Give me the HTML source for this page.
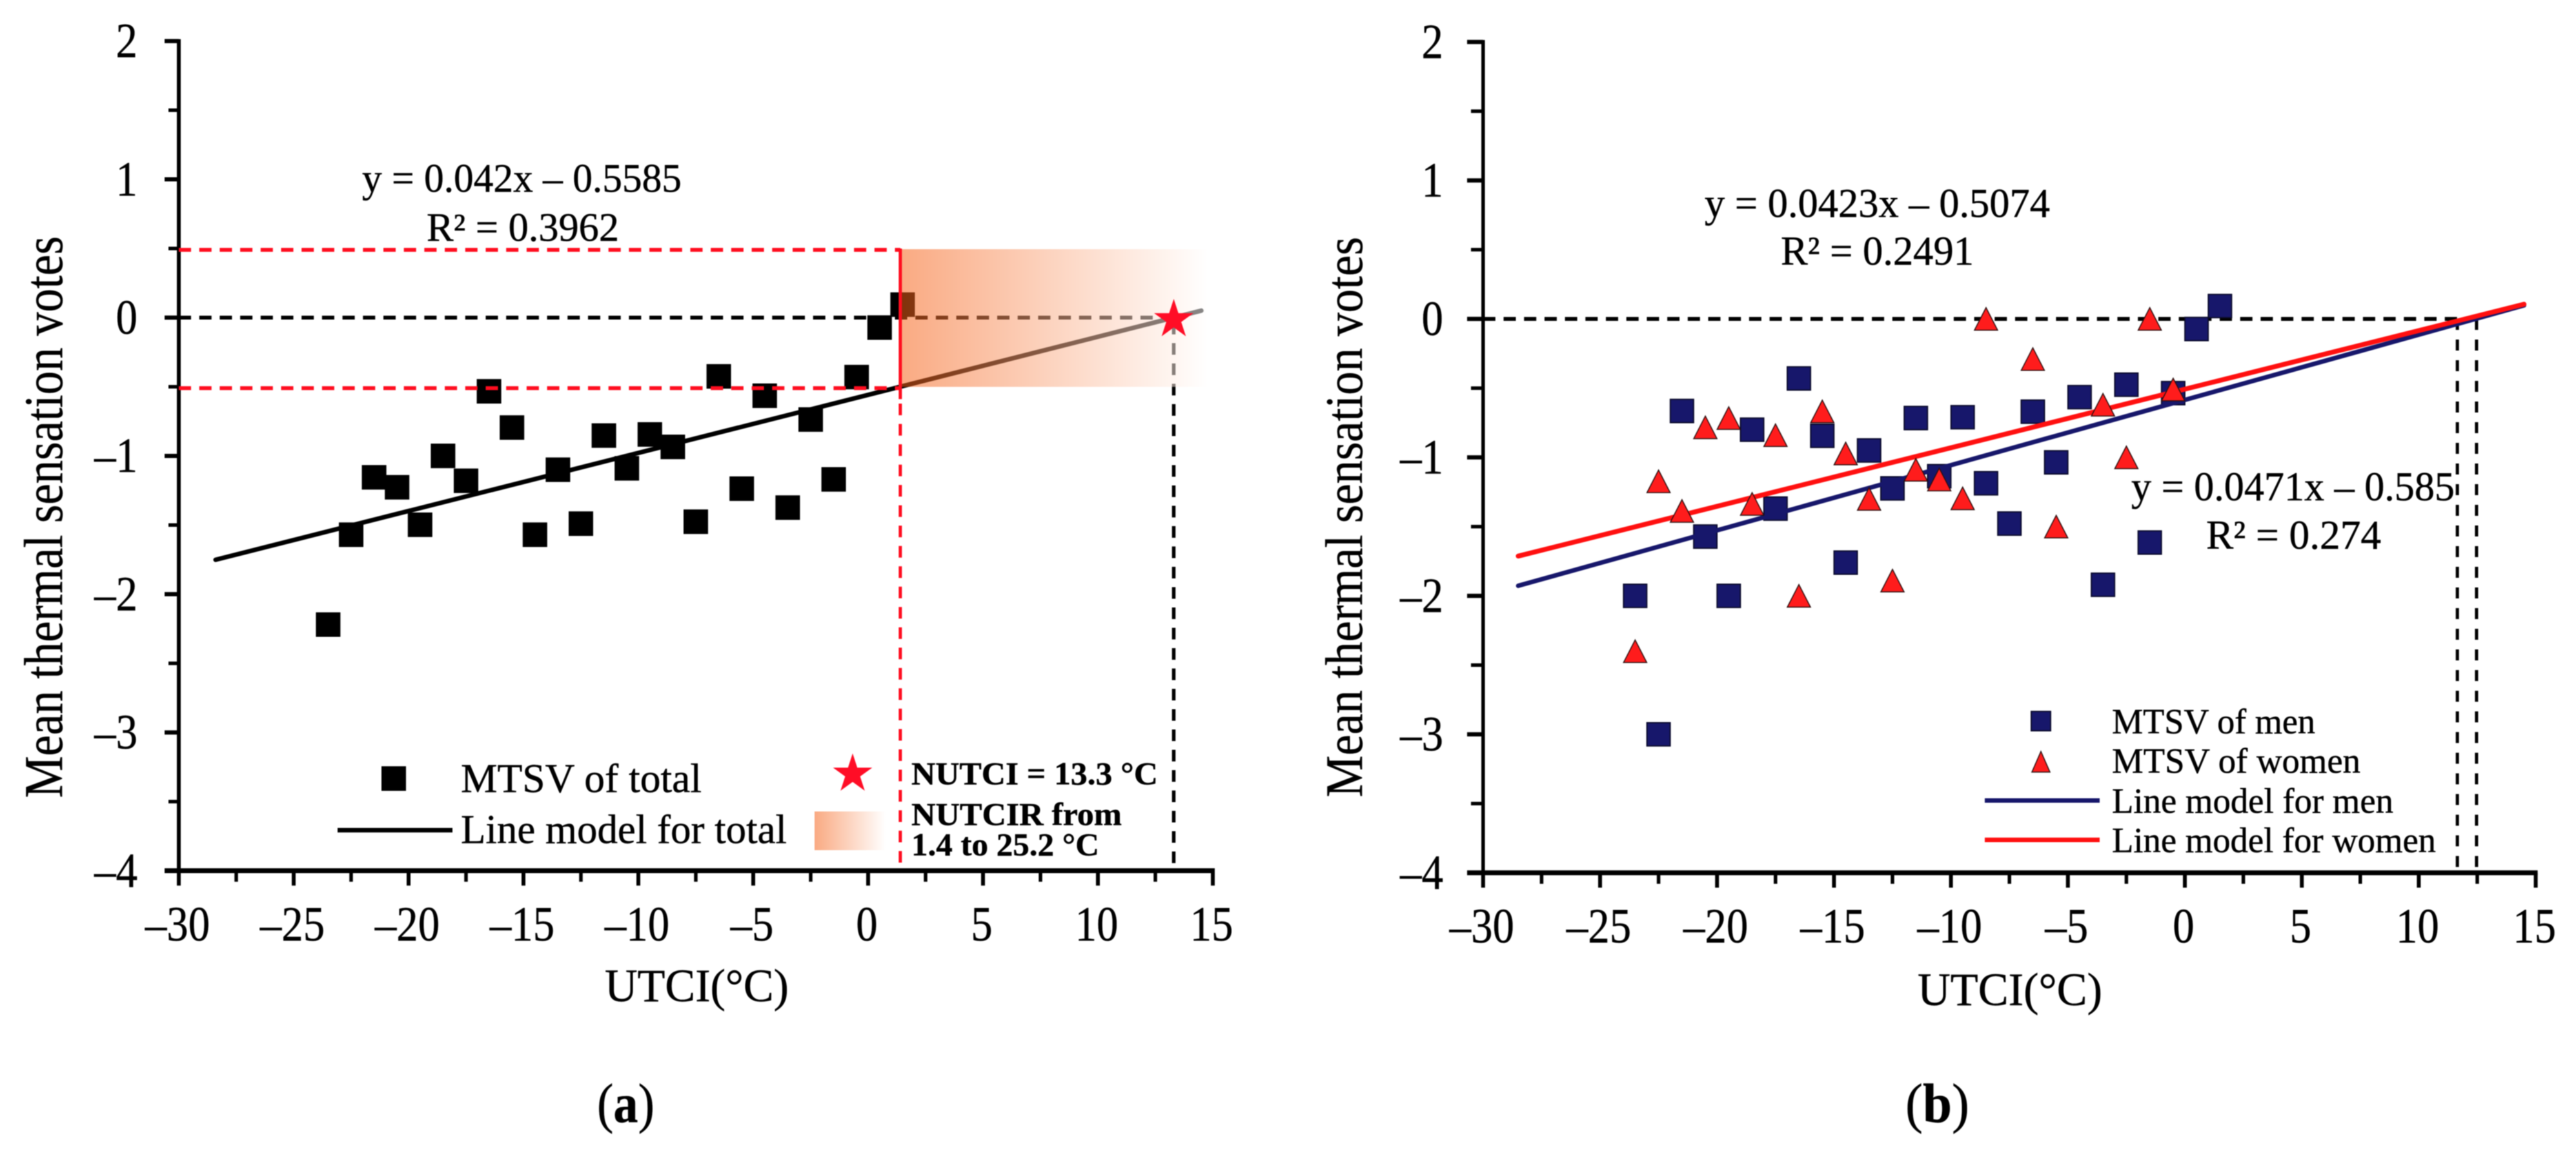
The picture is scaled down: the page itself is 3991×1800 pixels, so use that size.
<!DOCTYPE html>
<html lang="en">
<head>
<meta charset="utf-8">
<title>Mean thermal sensation votes vs UTCI</title>
<style>
html,body{margin:0;padding:0;background:#fff;}
svg{display:block;filter:blur(0.8px);}
text{font-family:"Liberation Serif","Times New Roman",serif;fill:#000;stroke:#000;stroke-width:0.5px;}
</style>
</head>
<body>
<svg id="fig" xmlns="http://www.w3.org/2000/svg" width="3991" height="1800" viewBox="0 0 3991 1800">
  <defs>
    <linearGradient id="shadeGrad" x1="0" y1="0" x2="1" y2="0">
      <stop offset="0" stop-color="#f45e13" stop-opacity="0.53"/>
      <stop offset="1" stop-color="#ffffff" stop-opacity="0.53"/>
    </linearGradient>
  </defs>
  <rect width="3991" height="1800" fill="#fff"/>

  <g id="panelA"></g>
  <g id="panelB"></g>

  <!-- Panel (a) text -->
  <g>
    <text transform="translate(96,1236) rotate(-90)" font-size="85" textLength="870" lengthAdjust="spacingAndGlyphs">Mean thermal sensation votes</text>
    <text x="937" y="1551" font-size="72" textLength="285" lengthAdjust="spacingAndGlyphs">UTCI(°C)</text>
    <text x="561" y="297" font-size="62" textLength="495" lengthAdjust="spacingAndGlyphs">y = 0.042x – 0.5585</text>
    <text x="661" y="373" font-size="62" textLength="298" lengthAdjust="spacingAndGlyphs">R² = 0.3962</text>
    <text x="714" y="1227" font-size="64" textLength="373" lengthAdjust="spacingAndGlyphs">MTSV of total</text>
    <text x="714" y="1306" font-size="64" textLength="505" lengthAdjust="spacingAndGlyphs">Line model for total</text>
    <text x="1412" y="1215" font-size="50" font-weight="bold" textLength="382" lengthAdjust="spacingAndGlyphs">NUTCI = 13.3 °C</text>
    <text x="1412" y="1278" font-size="50" font-weight="bold" textLength="326" lengthAdjust="spacingAndGlyphs">NUTCIR from</text>
    <text x="1412" y="1325" font-size="50" font-weight="bold" textLength="291" lengthAdjust="spacingAndGlyphs">1.4 to 25.2 °C</text>
    <text x="925" y="1738" font-size="86" textLength="89" lengthAdjust="spacingAndGlyphs">(<tspan font-weight="bold">a</tspan>)</text>
  </g>

  <!-- Panel (b) text -->
  <g>
    <text transform="translate(2110,1235) rotate(-90)" font-size="82" textLength="868" lengthAdjust="spacingAndGlyphs">Mean thermal sensation votes</text>
    <text x="2971" y="1557" font-size="72" textLength="286" lengthAdjust="spacingAndGlyphs">UTCI(°C)</text>
    <text x="2641" y="336" font-size="64" textLength="535" lengthAdjust="spacingAndGlyphs">y = 0.0423x – 0.5074</text>
    <text x="2759" y="410" font-size="64" textLength="299" lengthAdjust="spacingAndGlyphs">R² = 0.2491</text>
    <text x="3302" y="775" font-size="64" textLength="501" lengthAdjust="spacingAndGlyphs">y = 0.0471x – 0.585</text>
    <text x="3418" y="850" font-size="64" textLength="271" lengthAdjust="spacingAndGlyphs">R² = 0.274</text>
    <text x="3272" y="1136" font-size="55" textLength="315" lengthAdjust="spacingAndGlyphs">MTSV of men</text>
    <text x="3272" y="1197" font-size="55" textLength="385" lengthAdjust="spacingAndGlyphs">MTSV of women</text>
    <text x="3272" y="1259" font-size="55" textLength="436" lengthAdjust="spacingAndGlyphs">Line model for men</text>
    <text x="3272" y="1320" font-size="55" textLength="502" lengthAdjust="spacingAndGlyphs">Line model for women</text>
    <text x="2952" y="1738" font-size="86" textLength="99" lengthAdjust="spacingAndGlyphs">(<tspan font-weight="bold">b</tspan>)</text>
  </g>
</svg>

<script>
/* ---- shared axis data ---- */
var xTickValues = [-30,-25,-20,-15,-10,-5,0,5,10,15];
var xTickLabels = ['–30','–25','–20','–15','–10','–5','0','5','10','15'];
var xMinorValues = [-27.5,-22.5,-17.5,-12.5,-7.5,-2.5,2.5,7.5,12.5];
var yTickValues = [2,1,0,-1,-2,-3,-4];
var yTickLabels = ['2','1','0','–1','–2','–3','–4'];
var yMinorValues = [1.5,0.5,-0.5,-1.5,-2.5,-3.5];

/* ---- panel (a) data ---- */
var totalX = [-23.5,-22.5,-21.5,-20.5,-19.5,-18.5,-17.5,-16.5,-15.5,-14.5,-13.5,-12.5,-11.5,-10.5,-9.5,-8.5,-7.5,-6.5,-5.5,-4.5,-3.5,-2.5,-1.5,-0.5,0.5,1.5];
var totalY = [-2.22,-1.57,-1.155,-1.227,-1.498,-1.0,-1.18,-0.533,-0.795,-1.57,-1.10,-1.49,-0.853,-1.09,-0.845,-0.935,-1.476,-0.425,-1.237,-0.565,-1.374,-0.737,-1.17,-0.43,-0.072,0.094];
var totalFit = [0.042,-0.5585];
var totalFitRange = [-28.4,14.5];
var nutci = 13.3;
var nutcirLow = 1.4;
var nutcirShadeEnd = 14.8;
var comfortBand = [0.49,-0.51];

/* ---- panel (b) data ---- */
var menX = [-23.5,-22.5,-21.5,-20.5,-19.5,-18.5,-17.5,-16.5,-15.5,-14.5,-13.5,-12.5,-11.5,-10.5,-9.5,-8.5,-7.5,-6.5,-5.5,-4.5,-3.5,-2.5,-1.5,-0.5,0.5,1.5];
var menY = [-2.0,-3.0,-0.665,-1.572,-2.0,-0.80,-1.37,-0.43,-0.844,-1.76,-0.95,-1.224,-0.716,-1.136,-0.71,-1.187,-1.478,-0.67,-1.036,-0.565,-1.92,-0.475,-1.615,-0.536,-0.073,0.093];
var womenX = [-23.5,-22.5,-21.5,-20.5,-19.5,-18.5,-17.5,-16.5,-15.5,-14.5,-13.5,-12.5,-11.5,-10.5,-9.5,-8.5,-6.5,-5.5,-3.5,-2.5,-1.5,-0.5];
var womenY = [-2.40,-1.173,-1.387,-0.783,-0.716,-1.336,-0.84,-2.0,-0.668,-0.972,-1.30,-1.89,-1.09,-1.16,-1.296,0,-0.29,-1.50,-0.62,-1.0,0,-0.51];
var menFit = [0.0471,-0.585];
var womenFit = [0.0423,-0.5074];
var fitRangeB = [-28.5,14.5];
var crossingsB = [11.65,12.47];

/* ---- axis functions ---- */
function xA(v){ return 1345 + v * 35.6; }
function yA(v){ return 492 - v * 214.2; }
function xB(v){ return 3385 + v * 36.24; }
function yB(v){ return 494 - v * 214.5; }

var SVGNS = 'http://www.w3.org/2000/svg';
function make(parent, tag, attrs, name){
  var el = document.createElementNS(SVGNS, tag);
  for (var k in attrs) { el.setAttribute(k, attrs[k]); }
  
  
  parent.appendChild(el);
  return el;
}
function hLine(p, x1, x2, y, color, w, dash, name){
  var a = {x1:x1, x2:x2, y1:y, y2:y, stroke:color, 'stroke-width':w};
  if (dash) { a['stroke-dasharray'] = dash; }
  return make(p, 'line', a, name);
}
function vLine(p, x, y1, y2, color, w, dash, name){
  var a = {x1:x, x2:x, y1:y1, y2:y2, stroke:color, 'stroke-width':w};
  if (dash) { a['stroke-dasharray'] = dash; }
  return make(p, 'line', a, name);
}
function label(p, x, y, str, size, anchor, sx, name){
  var t = make(p, 'text', {transform:'translate(' + x + ',' + y + ') scale(' + sx + ',1)', 'font-size':size, 'text-anchor':anchor}, name);
  t.textContent = str;
  return t;
}
function drawAxes(p, X, Y, cfg){
  var i;
  vLine(p, X(-30), Y(2) - 3, Y(-4), '#000', cfg.yw, null, 'y-axis-line');
  hLine(p, cfg.tickLeft, X(15) + 3, Y(-4), '#000', cfg.xw, null, 'x-axis-line');
  for (i = 0; i < yTickValues.length; i++) {
    hLine(p, cfg.tickLeft, X(-30), Y(yTickValues[i]), '#000', 6.5, null, 'y-tick');
    label(p, cfg.yLabelRight, Y(yTickValues[i]) + 25, yTickLabels[i], 76, 'end', 0.88, 'y-tick-label');
  }
  for (i = 0; i < yMinorValues.length; i++) {
    hLine(p, cfg.tickLeft + 6, X(-30), Y(yMinorValues[i]), '#000', 5.5, null, 'y-minor-tick');
  }
  for (i = 0; i < xTickValues.length; i++) {
    vLine(p, X(xTickValues[i]), Y(-4), Y(-4) + 23, '#000', 6, null, 'x-tick');
    label(p, X(xTickValues[i]) - 2, cfg.xLabelBase, xTickLabels[i], 76, 'middle', 0.88, 'x-tick-label');
  }
  for (i = 0; i < xMinorValues.length; i++) {
    vLine(p, X(xMinorValues[i]), Y(-4), Y(-4) + 17, '#000', 5.5, null, 'x-minor-tick');
  }
}
function squareMark(p, cx, cy, size, fill, stroke, sw, name){
  return make(p, 'rect', {x:cx - size / 2, y:cy - size / 2, width:size, height:size, fill:fill, stroke:stroke, 'stroke-width':sw}, name);
}
function triangleMark(p, cx, cy, w, h, name){
  var pts = cx + ',' + (cy - h / 2) + ' ' + (cx + w / 2) + ',' + (cy + h / 2) + ' ' + (cx - w / 2) + ',' + (cy + h / 2);
  return make(p, 'polygon', {points:pts, fill:'#ff1c1c', stroke:'#2a1010', 'stroke-width':1.5, 'stroke-linejoin':'miter'}, name);
}
function starMark(p, cx, cy, r, name){
  var pts = [], i, a, rad;
  for (i = 0; i < 10; i++) {
    rad = i % 2 ? r * 0.382 : r;
    a = -Math.PI / 2 + i * Math.PI / 5;
    pts.push((cx + rad * Math.cos(a)).toFixed(1) + ',' + (cy + rad * Math.sin(a)).toFixed(1));
  }
  return make(p, 'polygon', {points:pts.join(' '), fill:'#ff0d26'}, name);
}
function fitLine(p, X, Y, fit, range, color, w, name){
  return make(p, 'line', {
    x1:X(range[0]), y1:Y(fit[0] * range[0] + fit[1]),
    x2:X(range[1]), y2:Y(fit[0] * range[1] + fit[1]),
    stroke:color, 'stroke-width':w, 'stroke-linecap':'round'
  }, name);
}

/* ---- panel (a) ---- */
(function(){
  var p = document.getElementById('panelA'), i;
  drawAxes(p, xA, yA, {tickLeft:255, yw:6, xw:7.5, yLabelRight:213, xLabelBase:1457});
  for (i = 0; i < totalX.length; i++) {
    squareMark(p, xA(totalX[i]), yA(totalY[i]), 38, '#000', 'none', 0, 'point-total');
  }
  hLine(p, xA(-30), xA(nutci), yA(0), '#000', 6, '19 12.7', 'zero-reference-line');
  vLine(p, xA(nutci), yA(0) + 8, yA(-4), '#000', 5.5, '18 13.5', 'nutci-drop-line');
  fitLine(p, xA, yA, totalFit, totalFitRange, '#000', 7, 'fit-line-total');
  make(p, 'rect', {x:xA(nutcirLow), y:yA(comfortBand[0]) - 1, width:xA(nutcirShadeEnd) - xA(nutcirLow), height:yA(comfortBand[1]) - yA(comfortBand[0]) - 1, fill:'url(#shadeGrad)'}, 'nutcir-shaded-range');
  hLine(p, xA(-30), xA(nutcirLow), yA(comfortBand[0]), '#ff0d1f', 6, '19 12.7', 'upper-band-line');
  hLine(p, xA(-30), xA(nutcirLow), yA(comfortBand[1]), '#ff0d1f', 6, '19 12.7', 'lower-band-line');
  vLine(p, xA(nutcirLow), yA(comfortBand[0]) - 2, yA(comfortBand[1]) + 17, '#ff0d1f', 5, null, 'nutcir-lower-bound-solid');
  vLine(p, xA(nutcirLow), yA(comfortBand[1]) + 24, yA(-4), '#ff0d1f', 5, '18 13.5', 'nutcir-lower-bound-dashed');
  starMark(p, xA(nutci), yA(0) + 3, 32, 'nutci-star');

  /* legend */
  squareMark(p, 610, 1206, 38, '#000', 'none', 0, 'legend-marker-total');
  hLine(p, 523, 701, 1286, '#000', 7, null, 'legend-line-total');
  starMark(p, 1321, 1199, 32, 'legend-star');
  make(p, 'rect', {x:1262, y:1257, width:110, height:60, fill:'url(#shadeGrad)'}, 'legend-shaded-swatch');
})();

/* ---- panel (b) ---- */
(function(){
  var p = document.getElementById('panelB'), i;
  drawAxes(p, xB, yB, {tickLeft:2273, yw:5.5, xw:7.5, yLabelRight:2236, xLabelBase:1460});
  hLine(p, xB(-30), xB(crossingsB[1]), yB(0), '#000', 6, '19 12.7', 'zero-reference-line');
  vLine(p, xB(crossingsB[0]), yB(0), yB(-4), '#000', 5, '17 15', 'crossing-women-line');
  vLine(p, xB(crossingsB[1]), yB(0), yB(-4), '#000', 5, '17 15', 'crossing-men-line');
  for (i = 0; i < menX.length; i++) {
    squareMark(p, xB(menX[i]), yB(menY[i]), 36, '#17176b', '#0c0c2e', 2, 'point-men');
  }
  fitLine(p, xB, yB, menFit, fitRangeB, '#17176b', 7, 'fit-line-men');
  fitLine(p, xB, yB, womenFit, fitRangeB, '#ff1010', 7.5, 'fit-line-women');
  for (i = 0; i < womenX.length; i++) {
    triangleMark(p, xB(womenX[i]), yB(womenY[i]), 36, 35, 'point-women');
  }

  /* legend */
  squareMark(p, 3162, 1117, 30, '#17176b', '#0c0c2e', 2, 'legend-marker-men');
  triangleMark(p, 3162, 1180, 28, 32, 'legend-marker-women');
  hLine(p, 3075, 3253, 1240, '#17176b', 7, null, 'legend-line-men');
  hLine(p, 3075, 3253, 1301, '#ff1010', 7, null, 'legend-line-women');
})();
</script>
</body>
</html>
